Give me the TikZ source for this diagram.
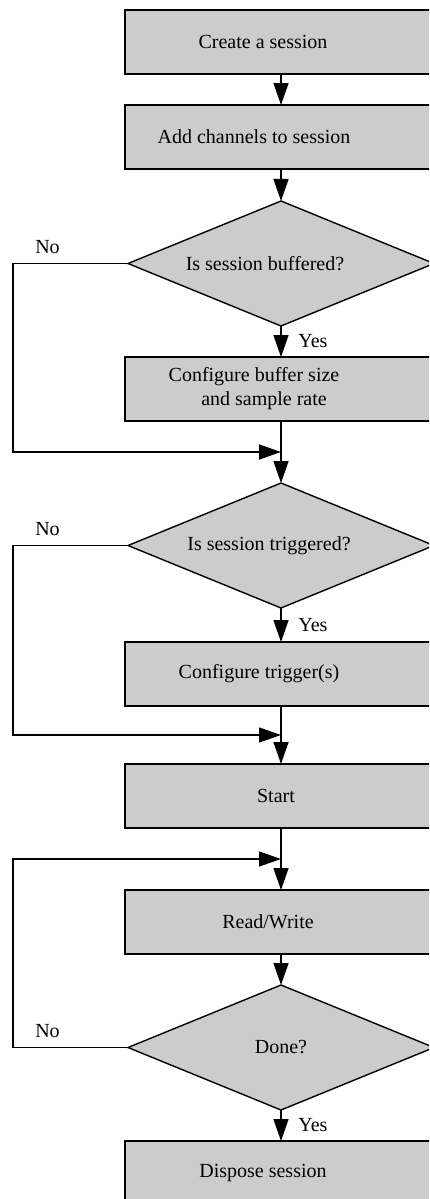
\documentclass[tikz,border=0pt]{standalone}
\usepackage{fontspec}
\setmainfont{Liberation Serif}
\usetikzlibrary{shapes.geometric, positioning, arrows.meta}
\definecolor{boxgray}{gray}{0.8}
\tikzset{
->, % every connector is directed
>={Triangle[length=11pt, width=7.5pt]}, % large filled heads
node distance=15.5pt, % gap between two shapes in a row
block/.style={draw, fill=boxgray, rectangle, minimum width=156pt, minimum height=32pt, align=center, inner sep=2pt, outer sep=0pt}, % process box
decision/.style={draw, fill=boxgray, diamond, aspect=2.5, minimum width=153pt, minimum height=62.5pt, inner sep=0pt, outer sep=0pt}, % question
}

\begin{document}
\begin{tikzpicture}[x=0.5pt, y=0.5pt, line width=0.7pt]
\useasboundingbox (0,0) rectangle (429,-1199);
\clip (0,0) rectangle (429,-1199);
\node[block] (s1) at (281,-42) {Create a session\hspace*{18pt}};
\node[block, below=of s1] (s2) {Add channels to session\hspace*{27pt}};
\node[decision, below=16pt of s2] (d1) {Is session buffered?\hspace*{16pt}};
\node[block, below=of d1] (s3) {Configure buffer size\hspace*{27pt}\\ and sample rate\hspace*{17pt}};
\coordinate[below=of s3] (m1);
\node[decision, below=of m1] (d2) {Is session triggered?\hspace*{12pt}};
\node[block, below=17pt of d2] (s4) {Configure trigger(s)\hspace*{22pt}};
\coordinate[below=14.5pt of s4] (m2);
\node[block, below=14.5pt of m2] (s5) {Start\hspace*{5pt}};
\coordinate[below=of s5] (m3);
\node[block, below=of m3] (s6) {Read/Write\hspace*{13pt}};
\node[decision, below=of s6] (d3) {Done?};
\node[block, below=of d3] (s7) {Dispose session\hspace*{18pt}};
% main line
\draw (s1) -- (s2);
\draw (s2) -- (d1);
\draw (d1) -- node[right, xshift=5pt]{Yes} (s3);
\draw[-] (s3) -- (m1);
\draw (m1) -- (d2);
\draw (d2) -- node[right, xshift=5pt]{Yes} (s4);
\draw[-] (s4) -- (m2);
\draw (m2) -- (s5);
\draw[-] (s5) -- (m3);
\draw (m3) -- (s6);
\draw (s6) -- (d3);
\draw (d3) -- node[right, xshift=5pt]{Yes} (s7);
% the No branches
\draw (d1.west) -- node[pos=0.7, above=1pt]{No} ++(-115,0) |- (m1);
\draw (d2.west) -- node[pos=0.7, above=1pt]{No} ++(-115,0) |- (m2);
\draw (d3.west) -- node[pos=0.7, above=1pt]{No} ++(-115,0) |- (m3);
\end{tikzpicture}
\end{document}
